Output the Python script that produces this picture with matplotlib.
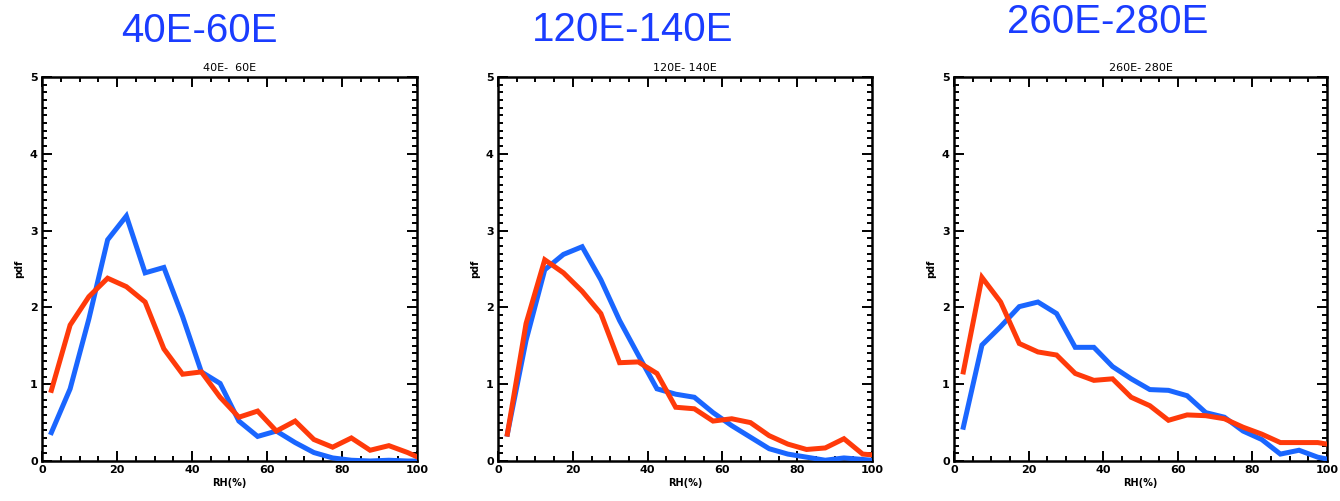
import matplotlib
matplotlib.use("Agg")
import matplotlib.pyplot as plt
from matplotlib.ticker import MultipleLocator

rh = [2.5, 7.5, 12.5, 17.5, 22.5, 27.5, 32.5, 37.5, 42.5, 47.5, 52.5,
      57.5, 62.5, 67.5, 72.5, 77.5, 82.5, 87.5, 92.5, 97.5, 102.5]

blue_40_60 = [0.37, 0.94, 1.85, 2.88, 3.19, 2.45, 2.52, 1.88, 1.16, 1.01, 0.52,
              0.32, 0.39, 0.24, 0.11, 0.04, 0.01, 0.0, 0.01, 0.0, 0.0]
red_40_60 = [0.92, 1.77, 2.14, 2.38, 2.27, 2.07, 1.46, 1.13, 1.16, 0.83, 0.57,
             0.65, 0.39, 0.52, 0.28, 0.18, 0.30, 0.14, 0.20, 0.11, 0.0]

blue_120_140 = [0.35, 1.57, 2.49, 2.69, 2.79, 2.36, 1.83, 1.38, 0.94, 0.87, 0.83,
                0.63, 0.46, 0.31, 0.16, 0.09, 0.05, 0.01, 0.04, 0.02, 0.0]
red_120_140 = [0.35, 1.79, 2.62, 2.45, 2.21, 1.92, 1.28, 1.29, 1.14, 0.70, 0.68,
               0.52, 0.55, 0.50, 0.33, 0.22, 0.15, 0.17, 0.29, 0.09, 0.07]

blue_260_280 = [0.44, 1.51, 1.75, 2.01, 2.07, 1.92, 1.48, 1.48, 1.23, 1.07, 0.93,
                0.92, 0.85, 0.63, 0.57, 0.39, 0.28, 0.09, 0.14, 0.05, 0.0]
red_260_280 = [1.16, 2.39, 2.07, 1.53, 1.42, 1.38, 1.14, 1.05, 1.07, 0.83, 0.72,
               0.53, 0.60, 0.59, 0.55, 0.44, 0.35, 0.24, 0.24, 0.24, 0.20]

big_titles = ["40E-60E", "120E-140E", "260E-280E"]
small_titles = ["40E-  60E", "120E- 140E", "260E- 280E"]
blue_series = [blue_40_60, blue_120_140, blue_260_280]
red_series = [red_40_60, red_120_140, red_260_280]

BLUE = "#1a66ff"
RED = "#ff3a0a"
TITLE_BLUE = "#1a3cff"

W, H = 1340, 501
fig = plt.figure(figsize=(W / 100, H / 100), dpi=100)

# pixel boxes (left, right) for each panel
panel_px = [(42, 417), (498, 872), (954, 1327)]
top_px, bot_px = 77, 461
big_pos = [(199, 42), (633, 41), (1108, 33)]  # baseline positions

for i in range(3):
    l, r = panel_px[i]
    ax = fig.add_axes([l / W, (H - bot_px) / H, (r - l) / W, (bot_px - top_px) / H])
    ax.plot(rh, blue_series[i], color=BLUE, lw=3.6, solid_joinstyle="miter", zorder=3)
    ax.plot(rh, red_series[i], color=RED, lw=3.6, solid_joinstyle="miter", zorder=4)
    ax.set_xlim(0, 100)
    ax.set_ylim(0, 5)
    ax.xaxis.set_major_locator(MultipleLocator(20))
    ax.xaxis.set_minor_locator(MultipleLocator(5))
    ax.yaxis.set_major_locator(MultipleLocator(1))
    ax.yaxis.set_minor_locator(MultipleLocator(0.1))
    ax.tick_params(which="both", direction="in", top=True, right=True,
                   labelsize=8, width=1.4, pad=3)
    ax.tick_params(which="major", length=7)
    ax.tick_params(which="minor", length=3.5)
    for s in ax.spines.values():
        s.set_linewidth(1.8)
    for lab in ax.get_xticklabels() + ax.get_yticklabels():
        lab.set_fontweight("bold")
    ax.set_xlabel("RH(%)", fontsize=7, fontweight="bold", labelpad=2)
    ax.set_ylabel("pdf", fontsize=7, fontweight="bold", labelpad=4)
    ax.set_title(small_titles[i], fontsize=8, pad=4)
    bx, by = big_pos[i]
    fig.text(bx / W, 1 - by / H, big_titles[i], color=TITLE_BLUE,
             fontsize=29, family="Liberation Sans", ha="center", va="baseline")

fig.savefig("out.png", dpi=100)
